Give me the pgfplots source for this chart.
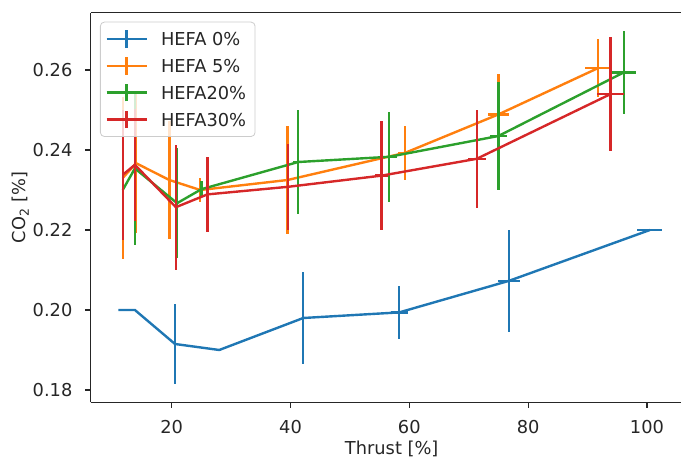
\documentclass[border=0pt]{standalone}
\usepackage{fontspec}
\setmainfont{DejaVu Sans}
\usepackage{pgfplots}
\pgfplotsset{compat=1.18}
\definecolor{c0}{HTML}{1F77B4}
\definecolor{c1}{HTML}{FF7F0E}
\definecolor{c2}{HTML}{2CA02C}
\definecolor{c3}{HTML}{D62728}
\begin{document}
\fontsize{8.9}{10.7}\selectfont
\begin{tikzpicture}
\begin{axis}[
  name=ax,
  scale only axis,
  width=295.15pt, height=194.8pt,
  xmin=6.36, xmax=105.74,
  ymin=0.17692, ymax=0.27433,
  axis x line=box, axis y line*=left,
  axis line style={black!85, line width=0.6pt},
  tick align=outside, tick pos=left,
  major tick length=2.8pt,
  tick style={black!85, line width=0.6pt},
  xtick={20,40,60,80,100},
  ytick={0.18,0.20,0.22,0.24,0.26},
  yticklabel style={/pgf/number format/.cd, fixed, fixed zerofill, precision=2, /tikz/.cd, xshift=-3.2pt},
  xticklabel style={yshift=-2.8pt},
  /pgf/number format/assume math mode=true,
  ticklabel style={font=\fontsize{8.9}{10.7}\selectfont, text=black!85},
  xlabel={Thrust [\%]},
  ylabel={CO\textsubscript{2} [\%]},
  xlabel style={at={(rel axis cs:0.5099,-0.1327)}, anchor=base, text=black!85},
  ylabel style={at={(rel axis cs:-0.1186,0.5)}, anchor=center, rotate=0, text=black!85},
  legend style={at={(rel axis cs:0,1)}, anchor=north west, xshift=4.65pt, yshift=-4.5pt,
    draw=black!20, rounded corners=2pt, fill=white, fill opacity=0.8, text opacity=1, draw opacity=1,
    inner xsep=2.5pt, inner ysep=1.9pt, row sep=0pt,
    nodes={inner xsep=2pt, inner ysep=0pt, text height=10pt, text depth=3.35pt, text=black!85},
    /tikz/every odd column/.append style={column sep=4.65pt}},
  legend cell align=left,
  legend image code/.code={\draw[#1] (0pt,0pt) -- (20pt,0pt); \draw[#1] (10pt,-4.4pt) -- (10pt,4.4pt);},
  every axis plot/.append style={line width=1.2pt},
  error bars/error bar style={line width=1.2pt},
]
\addplot[c0, error bars/.cd, x dir=both, x explicit, y dir=both, y explicit, error mark=none]
coordinates {
(11.0,0.2000) +- (0,0)
(13.8,0.2000) +- (0,0)
(20.55,0.1915) +- (0.2,0.0100)
(28.0,0.1900) +- (0.3,0)
(42.15,0.1980) +- (0.3,0.0114)
(58.3,0.1994) +- (1.4,0.0066)
(76.8,0.2073) +- (1.8,0.0128)
(100.5,0.2200) +- (2.1,0.0)
};
\addlegendentry{HEFA 0\%}
\addplot[c1, error bars/.cd, x dir=both, x explicit, y dir=both, y explicit, error mark=none]
coordinates {
(11.75,0.2330) +- (0.2,0.0202)
(14.0,0.2367) +- (0.2,0.0174)
(19.6,0.2325) +- (0.2,0.0148)
(24.8,0.2300) +- (0.3,0.0031)
(39.5,0.2325) +- (0.3,0.0135)
(59.3,0.2393) +- (1.2,0.0067)
(75.0,0.2489) +- (1.8,0.0100)
(91.8,0.2605) +- (2.2,0.0072)
};
\addlegendentry{HEFA 5\%}
\addplot[c2, error bars/.cd, x dir=both, x explicit, y dir=both, y explicit, error mark=none]
coordinates {
(11.75,0.2300) +- (0.2,0.0100)
(13.8,0.2354) +- (0.2,0.0192)
(20.9,0.2267) +- (0.2,0.0137)
(25.0,0.2302) +- (0.2,0.0020)
(41.3,0.2370) +- (0.9,0.0130)
(56.6,0.2383) +- (1.3,0.0112)
(75.0,0.2435) +- (1.5,0.0135)
(96.1,0.2594) +- (2.05,0.0104)
};
\addlegendentry{HEFA20\%}
\addplot[c3, error bars/.cd, x dir=both, x explicit, y dir=both, y explicit, error mark=none]
coordinates {
(11.75,0.2338) +- (0.2,0.0163)
(13.8,0.2363) +- (0.2,0.0140)
(20.7,0.2257) +- (0.2,0.0156)
(26.0,0.2289) +- (0.3,0.0093)
(39.6,0.2308) +- (0.3,0.0108)
(55.35,0.2336) +- (1.1,0.0136)
(71.35,0.2378) +- (1.55,0.0122)
(93.9,0.2540) +- (2.27,0.0142)
};
\addlegendentry{HEFA30\%}
\end{axis}
\pgfresetboundingbox
\path ([xshift=-45.35pt,yshift=-27.35pt]ax.south west) rectangle ([yshift=6.35pt]ax.north east);
\end{tikzpicture}
\end{document}
